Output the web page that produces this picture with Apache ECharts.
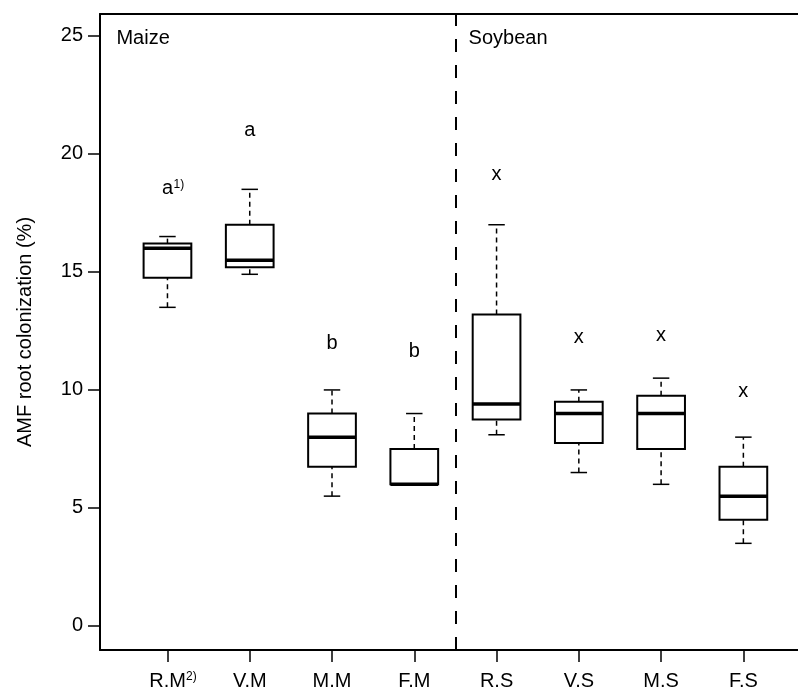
<!DOCTYPE html>
<html>
<head>
<meta charset="utf-8" />
<title>AMF root colonization</title>
<script src="https://cdn.jsdelivr.net/npm/echarts@6/dist/echarts.min.js"></script>
<style>
	html, body {margin: 0; padding: 0; background: #fff;}
	#main {width: 798px; height: 692px;}
</style>
</head>
<body>
<div id="main"></div>
<script type="text/javascript">
	var categories = ['R.M', 'V.M', 'M.M', 'F.M', 'R.S', 'V.S', 'M.S', 'F.S'];
	// box stats per group: [min, Q1, median, Q3, max]
	var statsRM = [13.5, 14.75, 16.0, 16.2, 16.5];
	var statsVM = [14.9, 15.2, 15.5, 17.0, 18.5];
	var statsMM = [5.5, 6.75, 8.0, 9.0, 10.0];
	var statsFM = [6.0, 6.0, 6.0, 7.5, 9.0];
	var statsRS = [8.1, 8.75, 9.4, 13.2, 17.0];
	var statsVS = [6.5, 7.75, 9.0, 9.5, 10.0];
	var statsMS = [6.0, 7.5, 9.0, 9.75, 10.5];
	var statsFS = [3.5, 4.5, 5.5, 6.75, 8.0];
	var boxStats = [statsRM, statsVM, statsMM, statsFM, statsRS, statsVS, statsMS, statsFS];

	// significance letters and where they sit (y value of text centre)
	var letters = ['a', 'a', 'b', 'b', 'x', 'x', 'x', 'x'];
	var letterNotes = ['1)', '', '', '', '', '', '', ''];
	var letterY = [18.55, 21.0, 11.95, 11.65, 19.15, 12.22, 12.3, 9.95];

	var groupNames = ['Maize', 'Soybean'];
	var groupX = [0.38, 4.66];
	var groupY = [24.9, 24.9];

	var yTicks = [0, 5, 10, 15, 20, 25];
	var xTicks = [1, 2, 3, 4, 5, 6, 7, 8];
	var splitAt = 4.5;

	var FONT = '"Liberation Sans", Arial, Helvetica, sans-serif';

	var boxData = boxStats.map(function (s, i) {
		return [i + 1].concat(s);
	});
	var letterData = letterY.map(function (v, i) { return [i + 1, v]; });
	var groupData = groupX.map(function (v, i) { return [v, groupY[i]]; });

	function renderBox(params, api) {
		var x = api.value(0);
		var lo = api.coord([x, api.value(1)]);
		var q1 = api.coord([x, api.value(2)]);
		var md = api.coord([x, api.value(3)]);
		var q3 = api.coord([x, api.value(4)]);
		var hi = api.coord([x, api.value(5)]);
		var w = api.size([0.58, 0])[0];
		var cw = api.size([0.2, 0])[0];
		var cx = lo[0];
		var dash = {stroke: '#000', lineWidth: 1.5, lineDash: [5, 4], fill: null};
		var solid = {stroke: '#000', lineWidth: 1.5, fill: null};
		return {
			type: 'group',
			children: [
				{type: 'line', shape: {x1: cx, y1: lo[1], x2: cx, y2: q1[1]}, style: dash},
				{type: 'line', shape: {x1: cx, y1: q3[1], x2: cx, y2: hi[1]}, style: dash},
				{type: 'line', shape: {x1: cx - cw / 2, y1: lo[1], x2: cx + cw / 2, y2: lo[1]}, style: solid},
				{type: 'line', shape: {x1: cx - cw / 2, y1: hi[1], x2: cx + cw / 2, y2: hi[1]}, style: solid},
				{type: 'rect', shape: {x: cx - w / 2, y: q3[1], width: w, height: q1[1] - q3[1]},
					style: {fill: '#fff', stroke: '#000', lineWidth: 2}},
				{type: 'line', shape: {x1: cx - w / 2, y1: md[1], x2: cx + w / 2, y2: md[1]},
					style: {stroke: '#000', lineWidth: 3.5}}
			]
		};
	}

	function renderLetter(params, api) {
		var p = api.coord([api.value(0), api.value(1)]);
		var kids = [{
			type: 'text', x: p[0], y: p[1],
			style: {text: letters[params.dataIndex], fill: '#000', fontSize: 20, fontFamily: FONT,
				align: 'center', verticalAlign: 'middle'}
		}];
		if (letterNotes[params.dataIndex]) {
			kids.push({
				type: 'text', x: p[0] + 6, y: p[1] - 3,
				style: {text: letterNotes[params.dataIndex], fill: '#000', fontSize: 12, fontFamily: FONT,
					align: 'left', verticalAlign: 'middle'}
			});
		}
		return {type: 'group', children: kids};
	}

	function renderGroup(params, api) {
		var p = api.coord([api.value(0), api.value(1)]);
		return {
			type: 'text', x: p[0], y: p[1],
			style: {text: groupNames[params.dataIndex], fill: '#000', fontSize: 20, fontFamily: FONT,
				align: 'left', verticalAlign: 'middle'}
		};
	}

	var axisLineStyle = {color: '#000', width: 2};

	var myChart = echarts.init(document.getElementById('main'));
	var option = {
		animation: false,
		backgroundColor: '#fff',
		grid: {left: 100, top: 14, bottom: 42, right: 0, show: false},
		xAxis: [{
			type: 'value', min: 0.18, max: 8.664, position: 'bottom',
			splitLine: {show: false},
			axisLine: {show: true, onZero: false, lineStyle: axisLineStyle},
			axisTick: {show: true, length: 12, customValues: xTicks, lineStyle: {color: '#000', width: 1.5}},
			axisLabel: {
				customValues: xTicks, margin: 21, color: '#000', fontSize: 20, fontFamily: FONT,
				formatter: function (v) {
					var name = categories[Math.round(v) - 1] || '';
					return v === 1 ? '{pad| }' + name + '{sup|2)}' : name;
				},
				rich: {
					pad: {width: 11, fontSize: 12},
					sup: {fontSize: 12, fontFamily: FONT, color: '#000', verticalAlign: 'top', padding: [0, 0, 6, 0]}
				}
			}
		}, {
			// top frame line only
			type: 'value', min: 0.18, max: 8.664, position: 'top',
			splitLine: {show: false},
			axisLine: {show: true, onZero: false, lineStyle: axisLineStyle},
			axisTick: {show: false},
			axisLabel: {show: false}
		}],
		yAxis: {
			type: 'value', min: -1.02, max: 25.93,
			name: 'AMF root colonization (%)', nameLocation: 'middle', nameGap: 65, nameRotate: 90,
			nameTextStyle: {color: '#000', fontSize: 20, fontFamily: FONT},
			splitLine: {show: false},
			axisLine: {show: true, onZero: false, lineStyle: axisLineStyle},
			axisTick: {show: true, length: 12, customValues: yTicks, lineStyle: {color: '#000', width: 1.5}},
			axisLabel: {customValues: yTicks, margin: 17, color: '#000', fontSize: 20, fontFamily: FONT}
		},
		series: [{
			type: 'custom', name: 'box', renderItem: renderBox, data: boxData, silent: true,
			encode: {x: 0, y: [1, 2, 3, 4, 5]},
			markLine: {
				silent: true, symbol: 'none', label: {show: false},
				lineStyle: {color: '#000', width: 2, type: [13, 13]},
				data: [{xAxis: splitAt}]
			}
		}, {
			type: 'custom', name: 'letters', renderItem: renderLetter, data: letterData, silent: true
		}, {
			type: 'custom', name: 'groups', renderItem: renderGroup, data: groupData, silent: true
		}]
	};
	myChart.setOption(option);
</script>
</body>
</html>
